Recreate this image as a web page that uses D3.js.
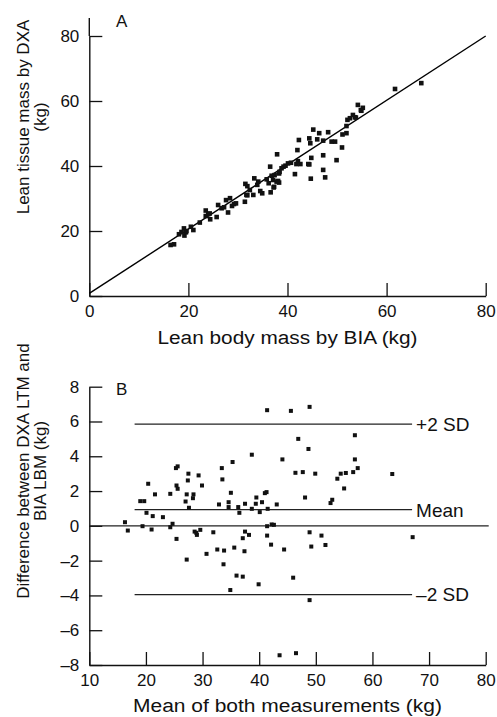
<!DOCTYPE html>
<html><head><meta charset="utf-8">
<script src="https://cdn.jsdelivr.net/npm/d3@7"></script>
<style>
body{margin:0;background:#fff;}
svg{display:block;}
text{font-family:"Liberation Sans",Arial,Helvetica,sans-serif;fill:#111;}
</style></head>
<body>
<svg id="chart" width="497" height="717"></svg>
<script>
// ---- Panel A data: BIA lean body mass (x) vs DXA lean tissue mass (y), kg
const aBIA = [16.4,17.1,18.1,19.1,19.2,19.5,20.5,21.0,22.3,23.5,23.5,24.3,24.4,25.7,26.0,26.7,27.2,27.6,28.0,28.4,28.8,29.2,29.6,31.4,31.5,31.9,31.9,32.4,33.1,33.3,33.9,34.1,34.5,34.9,35.8,36.2,36.5,36.6,36.8,37.1,37.4,37.3,37.9,37.8,38.3,38.3,38.8,39.2,39.6,40.1,40.7,41.5,41.8,42.1,42.0,42.3,42.6,44.2,44.4,44.6,44.8,44.7,45.2,46.0,46.4,47.2,47.2,47.2,47.6,48.2,48.9,49.6,49.9,51.0,51.1,51.9,51.9,52.1,52.6,53.2,53.6,54.2,54.8,55.2,61.7,67.0,18.6,19.6,24.0,31.7,37.2,38.1,38.4,54.9,53.8,44.4];
const aDXA = [15.7,15.9,19.0,20.8,18.6,19.6,21.3,20.3,22.6,26.3,24.6,25.4,23.6,24.3,28.0,27.0,27.3,29.5,25.7,30.1,27.7,28.3,28.5,29.0,34.5,33.8,31.0,32.6,31.1,36.2,34.2,35.2,32.3,31.6,35.9,34.7,39.8,31.9,37.0,35.7,37.2,33.6,43.6,35.2,37.7,34.9,39.3,39.8,40.1,40.8,41.0,37.5,40.6,41.5,44.9,48.0,40.6,40.6,48.5,47.0,42.5,36.1,51.2,48.2,50.1,47.8,43.3,38.8,36.5,50.4,47.5,47.5,41.8,45.7,49.7,50.1,52.3,54.2,54.7,55.7,55.0,58.8,57.2,57.9,63.7,65.5,19.7,20.0,25.2,31.1,33.4,35.4,38.2,57.0,54.9,40.5];
const aLineX = [0,80];
const aLineY = [0.8,80];
const aTicks = [0,20,40,60,80];

// ---- Panel B data: mean of both measurements (x) vs difference DXA - BIA (y), kg
const bMean = [16.3,16.8,19.0,19.7,19.4,20.1,20.4,21.0,21.2,21.6,23.0,24.3,24.3,24.7,25.3,25.6,25.4,25.6,25.4,27.0,27.2,27.5,27.4,27.6,27.2,28.4,28.3,28.6,29.0,28.9,29.3,29.6,29.9,30.7,31.9,32.6,32.9,33.4,33.5,33.7,33.8,34.6,34.6,34.9,35.0,35.3,35.6,36.0,36.3,36.5,37.1,37.1,37.4,37.5,37.5,38.2,38.7,38.7,39.4,39.5,39.9,40.1,40.5,41.0,41.3,41.4,41.4,41.5,41.4,42.1,42.2,42.6,43.1,43.6,44.1,44.4,45.6,46.0,46.4,46.5,46.9,47.7,48.1,48.7,48.9,48.9,48.9,49.2,49.9,51.0,51.7,52.6,52.9,53.8,54.4,55.0,55.3,56.6,56.9,56.9,57.4,63.5,67.1];
const bDiff = [0.21,-0.27,1.42,1.42,-0.02,0.75,2.42,-0.21,0.56,1.81,0.50,1.84,-0.08,0.12,3.32,3.42,2.32,2.13,-0.75,1.40,1.81,3.00,2.61,1.04,-1.94,1.81,1.59,-0.33,-0.52,-0.40,2.90,-0.23,2.32,-1.61,-0.37,-1.36,1.23,3.32,2.67,-2.21,-1.42,1.36,1.08,-3.69,1.90,3.67,-1.25,-2.86,1.08,0.75,-2.92,-0.71,-1.46,-0.33,1.27,-0.52,4.09,0.98,1.27,1.63,-3.36,0.79,1.36,1.88,1.94,6.65,-0.02,0.98,-0.56,-1.08,0.08,0.06,1.23,-7.44,3.82,-1.36,6.61,-2.98,3.05,-7.32,5.00,3.09,1.63,4.42,6.84,-0.37,-4.27,-1.19,3.00,-0.56,-1.10,1.31,1.50,2.71,3.00,2.15,3.04,3.09,3.82,5.21,3.32,2.98,-0.65];
const bRefValues = [5.85,0.93,-3.95];
const bRefLabels = ["+2 SD","Mean","\u20132 SD"];
const bRefSpan = [18,67];
const bXTicks = [10,20,30,40,50,60,70,80];
const bYTicks = [-8,-6,-4,-2,0,2,4,6,8];

const svg = d3.select("#chart");
const INK = "#111";
const fmt = d => d < 0 ? "\u2013" + Math.abs(d) : String(d);

function styleAxis(g){
  g.selectAll(".domain").attr("stroke", INK).attr("stroke-width", 1.4);
  g.selectAll(".tick line").attr("stroke", INK).attr("stroke-width", 1.3);
  g.selectAll(".tick text").attr("font-size", 17).attr("fill", INK)
    .attr("font-family", "Liberation Sans, Arial, sans-serif");
}
function rotLabel(g, x, yc, size, txt){
  return g.append("text").attr("transform", `translate(${x},${yc}) rotate(-90)`)
    .attr("text-anchor","middle").attr("font-size", size).text(txt);
}

// ================= Panel A =================
const xA = d3.scaleLinear().domain([0,80]).range([89.3,485.7]);
const yA = d3.scaleLinear().domain([0,80]).range([296,36]);

const gA = svg.append("g");
gA.append("g").attr("transform", `translate(0,${yA(0)})`)
  .call(d3.axisBottom(xA).tickValues(aTicks).tickSizeInner(-13).tickSizeOuter(0).tickPadding(9).tickFormat(fmt))
  .call(styleAxis);
gA.append("g").attr("transform", `translate(${xA(0)},0)`)
  .call(d3.axisLeft(yA).tickValues(aTicks).tickSizeInner(-13).tickSizeOuter(0).tickPadding(10).tickFormat(fmt))
  .call(styleAxis);
gA.append("line").attr("x1", xA(0)).attr("x2", xA(0)).attr("y1", yA(80)).attr("y2", yA(80) - 18)
  .attr("stroke", INK).attr("stroke-width", 1.4);

gA.append("line")
  .attr("x1", xA(aLineX[0])).attr("y1", yA(aLineY[0]))
  .attr("x2", xA(aLineX[1])).attr("y2", yA(aLineY[1]))
  .attr("stroke", "#000").attr("stroke-width", 1.4);

const ms = 4.6;
gA.selectAll("rect.pt").data(aBIA.map((v,i)=>[v,aDXA[i]])).join("rect")
  .attr("class","pt")
  .attr("x", d => xA(d[0]) - ms/2).attr("y", d => yA(d[1]) - ms/2)
  .attr("width", ms).attr("height", ms).attr("fill", INK);

gA.append("text").attr("x", 116).attr("y", 27).attr("font-size", 17).text("A");
gA.append("text").attr("x", (xA(0)+xA(80))/2).attr("y", 344).attr("text-anchor","middle")
  .attr("font-size", 18).attr("textLength", 260).attr("lengthAdjust","spacingAndGlyphs")
  .text("Lean body mass by BIA (kg)");
rotLabel(gA, 29, 117, 17, "Lean tissue mass by DXA");
rotLabel(gA, 46, 117, 17, "(kg)");

// ================= Panel B =================
const xB = d3.scaleLinear().domain([10,80]).range([89.3,485.7]);
const yB = d3.scaleLinear().domain([-8,8]).range([665,386.7]);

const gB = svg.append("g");
gB.append("g").attr("transform", `translate(0,${yB(-8)})`)
  .call(d3.axisBottom(xB).tickValues(bXTicks).tickSizeInner(-13).tickSizeOuter(0).tickPadding(9).tickFormat(fmt))
  .call(styleAxis);
gB.append("g").attr("transform", `translate(${xB(10)},0)`)
  .call(d3.axisLeft(yB).tickValues(bYTicks).tickSizeInner(-13).tickSizeOuter(0).tickPadding(10).tickFormat(fmt))
  .call(styleAxis);

gB.append("line").attr("x1", xB(10)).attr("x2", xB(80) + 3).attr("y1", yB(0)).attr("y2", yB(0))
  .attr("stroke", "#222").attr("stroke-width", 1.3);
gB.selectAll("line.ref").data(bRefValues).join("line").attr("class","ref")
  .attr("x1", xB(bRefSpan[0])).attr("x2", xB(bRefSpan[1]))
  .attr("y1", d => yB(d)).attr("y2", d => yB(d))
  .attr("stroke", "#222").attr("stroke-width", 1.3);
gB.selectAll("text.ref").data(bRefValues).join("text").attr("class","ref")
  .attr("x", xB(bRefSpan[1]) + 4).attr("y", d => yB(d)).attr("dy", "0.36em")
  .attr("font-size", 19).text((d,i) => bRefLabels[i]);

gB.selectAll("rect.pt").data(bMean.map((v,i)=>[v,bDiff[i]])).join("rect")
  .attr("class","pt")
  .attr("x", d => xB(d[0]) - 2).attr("y", d => yB(d[1]) - 2)
  .attr("width", 4).attr("height", 4).attr("fill", INK);

gB.append("text").attr("x", 116).attr("y", 395).attr("font-size", 17).text("B");
gB.append("text").attr("x", (xB(10)+xB(80))/2).attr("y", 712).attr("text-anchor","middle")
  .attr("font-size", 18).attr("textLength", 309).attr("lengthAdjust","spacingAndGlyphs")
  .text("Mean of both measurements (kg)");
rotLabel(gB, 29, 471, 17, "Difference between DXA LTM and");
rotLabel(gB, 46, 471, 17, "BIA LBM (kg)");
</script>
</body></html>
